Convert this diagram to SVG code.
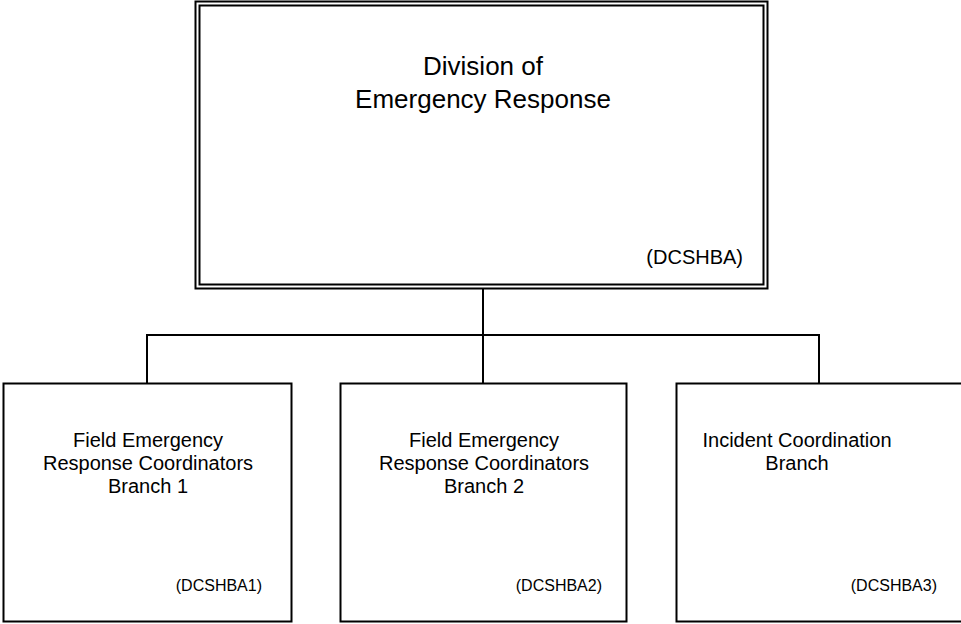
<svg xmlns="http://www.w3.org/2000/svg" width="961" height="624" viewBox="0 0 961 624">
<style>
.box{fill:#fff;stroke:#000;stroke-width:2}
.dbl{fill:none;stroke:#000;stroke-width:2}
.t{font-family:"Liberation Sans",Arial,sans-serif;fill:#000}
.big{font-size:26px;text-anchor:middle}
.mid{font-size:20px;text-anchor:middle}
.code{font-size:20px;text-anchor:end}
.small{font-size:16px;text-anchor:end}
.conn{fill:none;stroke:#000;stroke-width:2}
</style>
<rect width="961" height="624" fill="#fff"/>
<g id="connectors">
<path class="conn" d="M483 289V335M147 383V335H819V383M483 335V383"/>
</g>
<g id="division">
<rect class="dbl" x="195.5" y="1.5" width="572" height="287"/>
<rect class="dbl" x="199.5" y="5.5" width="564" height="279"/>
<text class="t big" x="483" y="75">Division of</text>
<text class="t big" x="483" y="108">Emergency Response</text>
<text class="t code" x="743" y="264">(DCSHBA)</text>
</g>
<g id="branch1">
<rect class="box" x="3.5" y="383.5" width="288" height="238"/>
<text class="t mid" x="148" y="447">Field Emergency</text>
<text class="t mid" x="148" y="470">Response Coordinators</text>
<text class="t mid" x="148" y="493">Branch 1</text>
<text class="t small" x="262" y="591">(DCSHBA1)</text>
</g>
<g id="branch2">
<rect class="box" x="340.5" y="383.5" width="286" height="238"/>
<text class="t mid" x="484" y="447">Field Emergency</text>
<text class="t mid" x="484" y="470">Response Coordinators</text>
<text class="t mid" x="484" y="493">Branch 2</text>
<text class="t small" x="602" y="591">(DCSHBA2)</text>
</g>
<g id="branch3">
<rect class="box" x="676.5" y="383.5" width="288" height="238"/>
<text class="t mid" x="797" y="447">Incident Coordination</text>
<text class="t mid" x="797" y="470">Branch</text>
<text class="t small" x="937" y="591">(DCSHBA3)</text>
</g>
</svg>
